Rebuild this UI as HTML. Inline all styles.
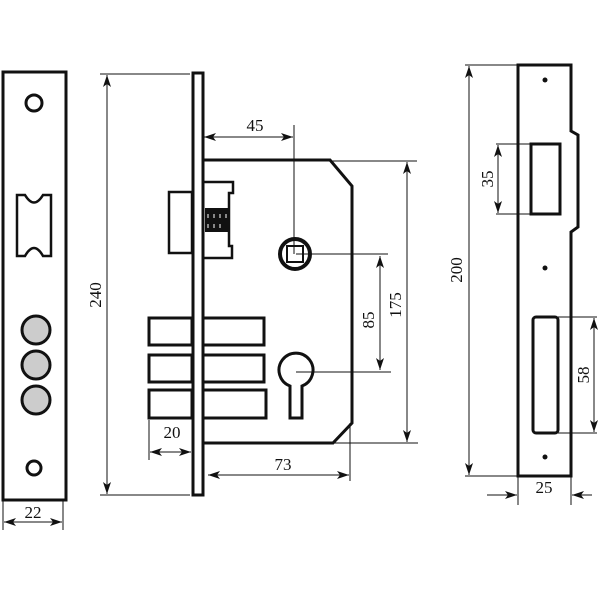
<!DOCTYPE html>
<html><head><meta charset="utf-8"><style>body{margin:0;background:#fff}svg{display:block}text{font-family:"Liberation Serif",serif;font-size:17px;fill:#111}</style></head><body>
<svg width="600" height="600" viewBox="0 0 600 600" xmlns="http://www.w3.org/2000/svg">
<defs><marker id="a" viewBox="0 0 12 8" refX="12" refY="4" markerWidth="12" markerHeight="8" orient="auto-start-reverse" markerUnits="userSpaceOnUse"><path d="M0,0 L12,4 L0,8 L3,4 Z" fill="#111"/></marker></defs>
<g fill="none" stroke="#111">
<!-- left plate -->
<rect x="3" y="72" width="63" height="428" stroke-width="3"/>
<circle cx="34" cy="103" r="8" stroke-width="3"/>
<path d="M17,195 L25,195 Q34,210 43,195 L51,195 L51,256 L43,256 Q34,240 25,256 L17,256 Z" stroke-width="2.5"/>
<circle cx="36" cy="330" r="14" fill="#ccc" stroke-width="3"/>
<circle cx="36" cy="365" r="14" fill="#ccc" stroke-width="3"/>
<circle cx="36" cy="400" r="14" fill="#ccc" stroke-width="3"/>
<circle cx="34" cy="468" r="7" stroke-width="3"/>
<g stroke-width="1">
<line x1="3" y1="500" x2="3" y2="530"/><line x1="63" y1="500" x2="63" y2="530"/>
<line x1="4" y1="522" x2="62" y2="522" marker-start="url(#a)" marker-end="url(#a)"/>
<!-- 240 -->
<line x1="100" y1="74" x2="190" y2="74"/><line x1="100" y1="495" x2="190" y2="495"/>
<line x1="107" y1="75" x2="107" y2="494" marker-start="url(#a)" marker-end="url(#a)"/>
</g>
<!-- faceplate -->
<rect x="193" y="73" width="10" height="422" stroke-width="3"/>
<!-- body -->
<path d="M203,160 L330,160 L352,186 L352,423 L333,443 L203,443" stroke-width="3"/>
<!-- latch -->
<rect x="169" y="192" width="23" height="61" stroke-width="2.5"/>
<path d="M203,182 L233,182 L233,193 L229,193 L229,246 L232,246 L232,258 L203,258" stroke-width="2.5"/>
<rect x="205" y="208" width="24" height="24" fill="#111" stroke="none"/>
<g stroke="#fff" stroke-width="1"><line x1="208" y1="214" x2="208" y2="218"/><line x1="214" y1="214" x2="214" y2="218"/><line x1="220" y1="214" x2="220" y2="218"/><line x1="226" y1="214" x2="226" y2="218"/><line x1="208" y1="224" x2="208" y2="228"/><line x1="214" y1="224" x2="214" y2="228"/><line x1="220" y1="224" x2="220" y2="228"/></g>
<!-- bolts -->
<g stroke-width="3">
<rect x="149" y="318" width="43" height="27"/><rect x="203" y="318" width="61" height="27"/>
<rect x="149" y="355" width="43" height="27"/><rect x="203" y="355" width="61" height="27"/>
<rect x="149" y="390" width="43" height="28"/><rect x="203" y="390" width="63" height="28"/>
</g>
<!-- spindle -->
<circle cx="295" cy="254" r="15" stroke-width="4"/>
<rect x="287" y="246" width="16" height="16" stroke-width="2"/>
<!-- keyhole -->
<path d="M290,386 A17,17 0 1 1 302,386 L302,418 L290,418 Z" stroke-width="3"/>
<g stroke-width="1">
<line x1="294" y1="125" x2="294" y2="254"/>
<line x1="204" y1="137" x2="293" y2="137" marker-start="url(#a)" marker-end="url(#a)"/>
<line x1="296" y1="254" x2="388" y2="254"/><line x1="296" y1="372" x2="391" y2="372"/>
<line x1="380" y1="256" x2="380" y2="370" marker-start="url(#a)" marker-end="url(#a)"/>
<line x1="330" y1="161" x2="417" y2="161"/><line x1="333" y1="443" x2="418" y2="443"/>
<line x1="407" y1="162" x2="407" y2="442" marker-start="url(#a)" marker-end="url(#a)"/>
<line x1="350" y1="423" x2="350" y2="481"/>
<line x1="208" y1="475" x2="349" y2="475" marker-start="url(#a)" marker-end="url(#a)"/>
<line x1="149" y1="420" x2="149" y2="460"/>
<line x1="150" y1="452" x2="191" y2="452" marker-start="url(#a)" marker-end="url(#a)"/>
</g>
<!-- strike plate -->
<path d="M518,65 L571,65 L571,131 L578,135 L578,227 L571,232 L571,476 L518,476 Z" stroke-width="3"/>
<circle cx="545" cy="80" r="2.5" fill="#111" stroke="none"/>
<circle cx="545" cy="268" r="2.5" fill="#111" stroke="none"/>
<circle cx="545" cy="457" r="2.5" fill="#111" stroke="none"/>
<rect x="531" y="144" width="29" height="70" stroke-width="3"/>
<rect x="533" y="317" width="25" height="116" rx="3" stroke-width="3"/>
<g stroke-width="1">
<line x1="496" y1="144" x2="531" y2="144"/><line x1="496" y1="214" x2="531" y2="214"/>
<line x1="498" y1="145" x2="498" y2="213" marker-start="url(#a)" marker-end="url(#a)"/>
<line x1="558" y1="317" x2="597" y2="317"/><line x1="558" y1="433" x2="597" y2="433"/>
<line x1="594" y1="318" x2="594" y2="432" marker-start="url(#a)" marker-end="url(#a)"/>
<line x1="465" y1="65" x2="518" y2="65"/><line x1="465" y1="476" x2="518" y2="476"/>
<line x1="469" y1="66" x2="469" y2="475" marker-start="url(#a)" marker-end="url(#a)"/>
<line x1="518" y1="476" x2="518" y2="505"/><line x1="571" y1="476" x2="571" y2="505"/>
<line x1="487" y1="495" x2="517" y2="495" marker-end="url(#a)"/>
<line x1="592" y1="495" x2="572" y2="495" marker-end="url(#a)"/>
</g>
</g>
<text x="33" y="518" text-anchor="middle">22</text>
<text transform="translate(101,295) rotate(-90)" text-anchor="middle">240</text>
<text x="255" y="131" text-anchor="middle">45</text>
<text transform="translate(374,320) rotate(-90)" text-anchor="middle">85</text>
<text transform="translate(401,305) rotate(-90)" text-anchor="middle">175</text>
<text x="283" y="470" text-anchor="middle">73</text>
<text x="172" y="438" text-anchor="middle">20</text>
<text transform="translate(493,179) rotate(-90)" text-anchor="middle">35</text>
<text transform="translate(462,270) rotate(-90)" text-anchor="middle">200</text>
<text transform="translate(589,375) rotate(-90)" text-anchor="middle">58</text>
<text x="544" y="493" text-anchor="middle">25</text>
</svg>
</body></html>
